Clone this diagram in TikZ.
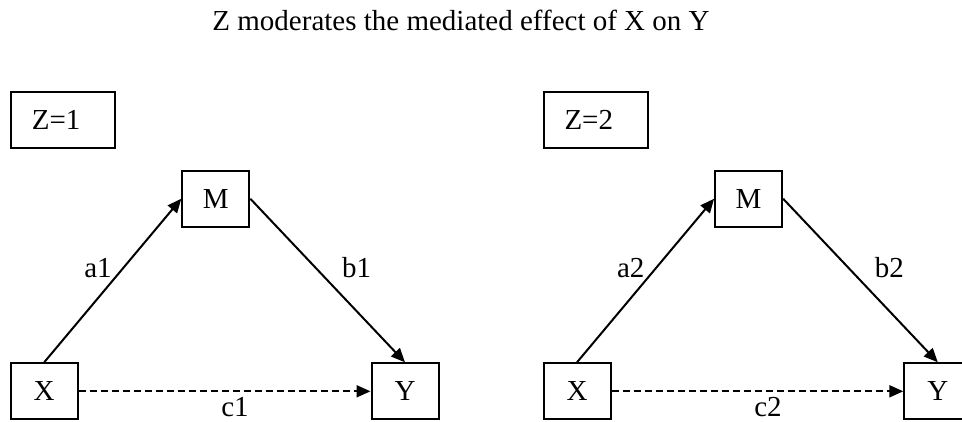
\documentclass[tikz,border=0pt]{standalone}
\usepackage{fontspec}
\setmainfont{Liberation Serif}
\usetikzlibrary{arrows.meta}
\begin{document}
\begin{tikzpicture}[x=1pt,y=-1pt,
  every node/.style={font=\fontsize{29}{33}\selectfont},
  vbox/.style={draw,line width=2pt,minimum width=67pt,minimum height=56pt,inner sep=0pt},
  zbox/.style={draw,line width=2pt,minimum height=56pt,text width=62pt,inner xsep=21pt,inner ysep=0pt,align=left},
  lab/.style={inner sep=0pt},
  arr/.style={line width=2pt,-{Triangle[length=14pt,width=12pt]}},
  darr/.style={arr,dash pattern=on 7pt off 4pt}]
\clip (0,0) rectangle (962,421);
\useasboundingbox (0,0) rectangle (962,421);
\node[lab] (title) at (461,20) {Z moderates the mediated effect of X on Y};
% left panel
\node[zbox] (z1) at (62.8,119.5) {Z=1};
\node[vbox] (m1) at (215.8,198.7) {M};
\node[vbox] (x1) at (44.2,391.3) {X};
\node[vbox] (y1) at (405,391.3) {Y};
\draw[arr] (x1.north) -- (m1.west);
\draw[arr] (m1.east) -- (y1.north);
\draw[darr] (x1.east) -- (y1.west);
\node[lab] (a1) at (98,268) {a1};
\node[lab] (b1) at (356.5,268) {b1};
\node[lab,anchor=north] (c1) at (235,397) {c1};
% right panel
\node[zbox] (z2) at (595.5,119.5) {Z=2};
\node[vbox] (m2) at (748.6,198.7) {M};
\node[vbox] (x2) at (577,391.3) {X};
\node[vbox] (y2) at (937.8,391.3) {Y};
\draw[arr] (x2.north) -- (m2.west);
\draw[arr] (m2.east) -- (y2.north);
\draw[darr] (x2.east) -- (y2.west);
\node[lab] (a2) at (630.8,268) {a2};
\node[lab] (b2) at (889.3,268) {b2};
\node[lab,anchor=north] (c2) at (768,397) {c2};
\end{tikzpicture}
\end{document}
